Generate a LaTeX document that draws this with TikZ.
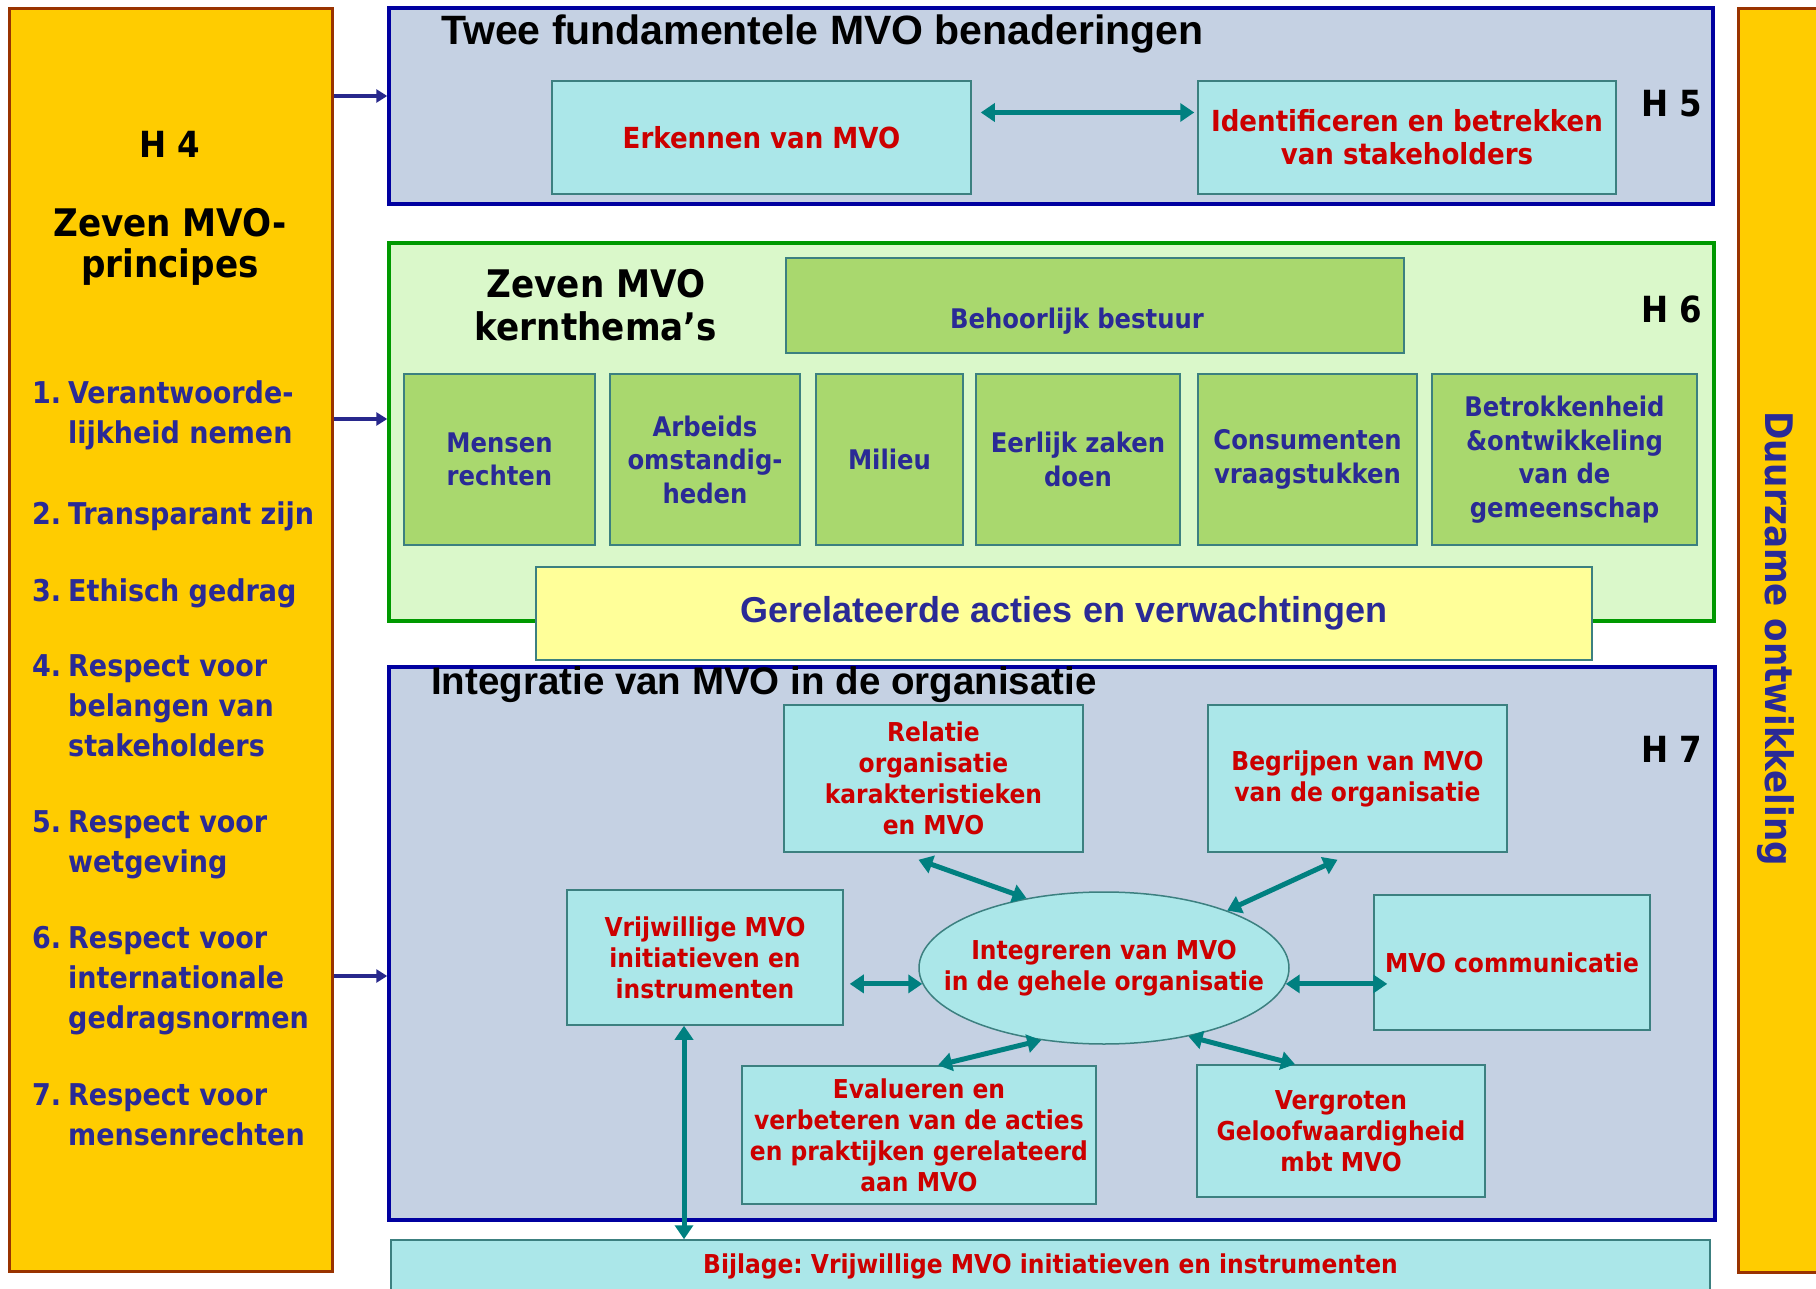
\documentclass[tikz,border=0pt]{standalone}
\usepackage{fontspec}
\setmainfont{DejaVu Sans Condensed}
\newfontfamily\arialfont{Liberation Sans}
\usepackage{tikz}
\usetikzlibrary{shapes.geometric, arrows.meta, calc}
\definecolor{pillaryellow}{RGB}{255,204,0}
\definecolor{pillaredge}{RGB}{153,51,0}
\definecolor{chapterblue}{RGB}{197,209,227}
\definecolor{chapteredge}{RGB}{0,0,160}
\definecolor{themefill}{RGB}{218,248,202}
\definecolor{themeedge}{RGB}{0,153,0}
\definecolor{topicgreen}{RGB}{169,216,110}
\definecolor{stepcyan}{RGB}{171,231,233}
\definecolor{boxedge}{RGB}{60,128,128}
\definecolor{actionyellow}{RGB}{255,255,153}
\definecolor{linkteal}{RGB}{0,128,128}
\definecolor{textred}{RGB}{204,0,0}
\definecolor{textnavy}{RGB}{42,42,150}
\definecolor{arrownavy}{RGB}{40,40,140}
\newcommand{\fsize}[2]{\fontsize{#1}{#2}\selectfont}
\frenchspacing

\begin{document}
\begin{tikzpicture}[x=1pt, y=-1pt,
    pillar/.style={draw=pillaredge, line width=3pt, fill=pillaryellow, inner sep=0pt},
    chapter/.style={line width=3.5pt, inner sep=0pt},
    topic/.style={draw=boxedge, line width=1.5pt, fill=topicgreen, text=textnavy, align=center, inner sep=0pt, font=\bfseries\fsize{27}{33.5}},
    stepbox/.style={draw=boxedge, line width=1.5pt, fill=stepcyan, text=textred, align=center, inner sep=0pt, font=\bfseries\fsize{26}{31}},
    htag/.style={anchor=base, inner sep=0pt, font=\bfseries\fsize{36}{40}},
    principle/.style={anchor=north west, inner sep=0pt, align=left, text=textnavy, font=\bfseries\fsize{30}{40}},
    feed/.style={-{Triangle[length=11pt,width=13pt]}, draw=arrownavy, line width=4pt},
    link/.style={{Triangle[length=14pt,width=18pt]}-{Triangle[length=14pt,width=18pt]}, draw=linkteal, line width=5pt}]

    \useasboundingbox (0,0) rectangle (1816,1289);

    % Left: seven principles
    \node[pillar, minimum width=323pt, minimum height=1262pt] (h4) at (170.5,640) {};
    \node[htag] (h4tag) at (170,158) {H 4};
    \node[align=center, inner sep=0pt, font=\bfseries\fsize{38}{41}] (h4title) at (170,247) {Zeven MVO-\\principes};

    \node[principle] (p1) at (32,380.5) {\makebox[36pt][l]{1.}Verantwoorde-\\\hspace*{36pt}lijkheid nemen};
    \node[principle] (p2) at (32,501.5) {\makebox[36pt][l]{2.}Transparant zijn};
    \node[principle] (p3) at (32,578.5) {\makebox[36pt][l]{3.}Ethisch gedrag};
    \node[principle] (p4) at (32,654.5) {\makebox[36pt][l]{4.}Respect voor\\\hspace*{36pt}belangen van\\\hspace*{36pt}stakeholders};
    \node[principle] (p5) at (32,810.5) {\makebox[36pt][l]{5.}Respect voor\\\hspace*{36pt}wetgeving};
    \node[principle] (p6) at (32,926.5) {\makebox[36pt][l]{6.}Respect voor\\\hspace*{36pt}internationale\\\hspace*{36pt}gedragsnormen};
    \node[principle] (p7) at (32,1083.5) {\makebox[36pt][l]{7.}Respect voor\\\hspace*{36pt}mensenrechten};

    % Right: sustainable development
    \node[pillar, minimum width=102pt, minimum height=1263pt] (dur) at (1789,640.5) {};
    \node[rotate=-90, anchor=base west, inner sep=0pt, text=textnavy, font=\bfseries\fsize{38}{40}] (durtext) at (1765,411) {Duurzame ontwikkeling};

    % H5: two approaches
    \node[chapter, draw=chapteredge, fill=chapterblue, minimum width=1324pt, minimum height=196pt] (h5) at (1051,106) {};
    \node[anchor=base west, inner sep=0pt, font=\arialfont\bfseries\fsize{41}{44}] (h5title) at (441,45) {Twee fundamentele MVO benaderingen};
    \node[htag] (h5tag) at (1672,117) {H 5};
    \node[stepbox, font=\bfseries\fsize{29}{33}, minimum width=419pt, minimum height=113pt] (erk) at (761.5,137.5) {Erkennen van MVO};
    \node[stepbox, font=\bfseries\fsize{29}{33}, minimum width=418pt, minimum height=113pt] (ident) at (1407,137.5) {Identificeren en betrekken\\van stakeholders};
    \draw[link] ([xshift=9pt,yshift=25pt]erk.east) -- ([xshift=-3pt,yshift=25pt]ident.west);

    % H6: core subjects
    \node[chapter, draw=themeedge, fill=themefill, minimum width=1325pt, minimum height=378pt] (h6) at (1051.5,432) {};
    \node[align=center, inner sep=0pt, font=\bfseries\fsize{38}{43}] (h6title) at (596,305.5) {Zeven MVO\\kernthema’s};
    \node[htag] (h6tag) at (1672,323) {H 6};
    \node[topic, minimum width=618pt, minimum height=95pt,
          label={[text=textnavy, font=\bfseries\fsize{27}{33}, xshift=-18pt, yshift=-16pt]center:Behoorlijk bestuur}] (bestuur) at (1095,305.5) {};

    \node[topic, minimum width=191pt, minimum height=171pt] (mensen) at (499.5,459.5) {Mensen\\rechten};
    \node[topic, minimum width=190pt, minimum height=171pt] (arbeid) at (705,459.5) {Arbeids\\omstandig-\\heden};
    \node[topic, minimum width=147pt, minimum height=171pt] (milieu) at (889.5,459.5) {Milieu};
    \node[topic, minimum width=204pt, minimum height=171pt] (eerlijk) at (1078,459.5) {Eerlijk zaken\\doen};
    \node[topic, minimum width=219pt, minimum height=171pt] (consument) at (1307.5,459.5) {Consumenten\\vraagstukken};
    \node[topic, minimum width=265pt, minimum height=171pt] (gemeenschap) at (1564.5,459.5) {Betrokkenheid\\\&ontwikkeling\\van de\\gemeenschap};

    \node[draw=boxedge, line width=1.5pt, fill=actionyellow, inner sep=0pt, minimum width=1056pt, minimum height=93pt,
          text=textnavy, font=\arialfont\bfseries\fsize{36}{40}] (gerel) at (1064,613.5) {Gerelateerde acties en verwachtingen};

    % H7: integration
    \node[chapter, draw=chapteredge, fill=chapterblue, minimum width=1326pt, minimum height=553pt] (h7) at (1052,943.5) {};
    \node[anchor=base west, inner sep=0pt, font=\arialfont\bfseries\fsize{38.5}{44}] (h7title) at (431,694) {Integratie van MVO in de organisatie};
    \node[htag] (h7tag) at (1672,762) {H 7};

    \node[stepbox, minimum width=299pt, minimum height=147pt] (relatie) at (933.5,778.5) {Relatie\\organisatie\\karakteristieken\\en MVO};
    \node[stepbox, minimum width=299pt, minimum height=147pt] (begrijpen) at (1357.5,778.5) {Begrijpen van MVO\\van de organisatie};
    \node[stepbox, minimum width=276pt, minimum height=135pt] (vrijw) at (705,957.5) {Vrijwillige MVO\\initiatieven en\\instrumenten};
    \node[ellipse, draw=boxedge, line width=1.5pt, fill=stepcyan, inner sep=0pt, minimum width=370pt, minimum height=152pt,
          label={[text=textred, align=center, font=\bfseries\fsize{26}{31}]center:Integreren van MVO\\in de gehele organisatie}] (integ) at (1104,968) {};
    \node[stepbox, minimum width=276pt, minimum height=135pt] (mvocomm) at (1512,962.5) {MVO communicatie};
    \node[stepbox, minimum width=354pt, minimum height=138pt] (evalueren) at (919,1135) {Evalueren en\\verbeteren van de acties\\en praktijken gerelateerd\\aan MVO};
    \node[stepbox, minimum width=288pt, minimum height=132pt] (vergroten) at (1341,1131) {Vergroten\\Geloofwaardigheid\\mbt MVO};

    \draw[link] ([xshift=-15pt,yshift=-7pt]relatie.south) -- (integ.138);
    \draw[link] ([xshift=-20pt,yshift=-7pt]begrijpen.south) -- (integ.25);
    \draw[link, shorten <=6pt] (vrijw.east |- integ.-175) -- (integ.-175);
    \draw[link] (integ.-5) -- ($(mvocomm.west |- integ.-5)+(14,0)$);
    \draw[link] ([xshift=19pt]evalueren.north) -- (integ.-131);
    \draw[link] (integ.-39) -- ([xshift=-46pt]vergroten.north);

    % Appendix
    \node[stepbox, minimum width=1319pt, minimum height=52pt] (bijlage) at (1050.5,1266) {Bijlage: Vrijwillige MVO initiatieven en instrumenten};
    \draw[link] ($(vrijw.south)+(-21,0)$) -- ($(vrijw.south |- bijlage.north)+(-21,0)$);

    % Principles feed the chapters
    \draw[feed] ($(h4.east |- h5.west)+(0,-10)$) -- ($(h5.west)+(0,-10)$);
    \draw[feed] ($(h4.east |- h6.west)+(0,-13)$) -- ($(h6.west)+(0,-13)$);
    \draw[feed] ($(h4.east |- h7.west)+(0,32.5)$) -- ($(h7.west)+(0,32.5)$);
\end{tikzpicture}
\end{document}
